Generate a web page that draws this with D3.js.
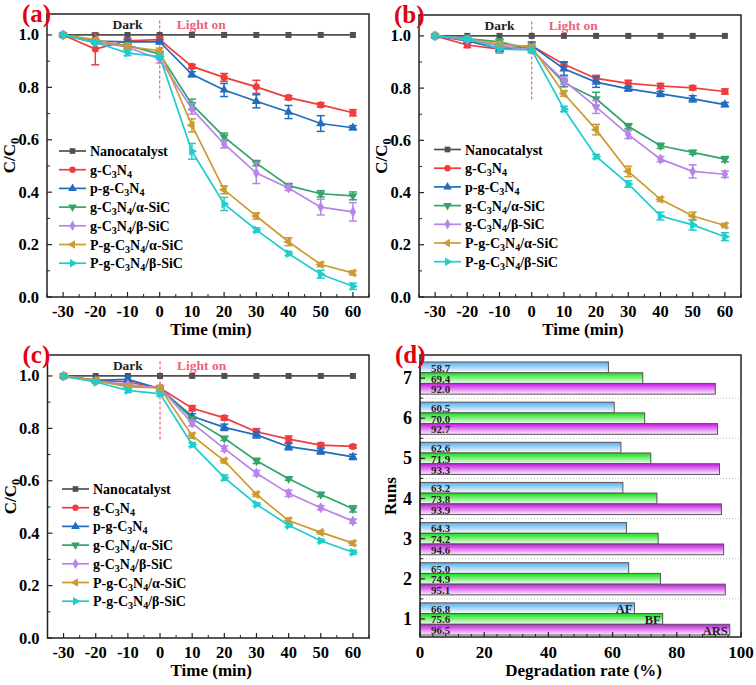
<!DOCTYPE html>
<html>
<head>
<meta charset="UTF-8">
<style>
  body { margin: 0; background: #fff; }
  svg text { font-family: "Liberation Serif", "Times New Roman", serif; font-weight: bold; }
</style>
<script src="https://d3js.org/d3.v7.min.js"></script>
</head>
<body>
<div id="fig"></div>
<script>
// ---- data ----
const times = [-30, -20, -10, 0, 10, 20, 30, 40, 50, 60];
const seriesNames = ["Nanocatalyst", "g-C3N4", "p-g-C3N4", "g-C3N4/α-SiC", "g-C3N4/β-SiC", "P-g-C3N4/α-SiC", "P-g-C3N4/β-SiC"];

// panel (a)
const a_nano = [1, 1, 1, 1, 1, 1, 1, 1, 1, 1];
const a_g    = [1, 0.946, 0.978, 0.982, 0.88, 0.838, 0.802, 0.761, 0.733, 0.703];
const a_pg   = [1, 0.977, 0.974, 0.974, 0.85, 0.79, 0.747, 0.706, 0.662, 0.646];
const a_ga   = [1, 0.97, 0.96, 0.927, 0.735, 0.611, 0.511, 0.425, 0.394, 0.386];
const a_gb   = [1, 0.974, 0.953, 0.908, 0.718, 0.584, 0.473, 0.416, 0.343, 0.325];
const a_pa   = [1, 0.982, 0.956, 0.94, 0.655, 0.409, 0.309, 0.211, 0.124, 0.092];
const a_pb   = [1, 0.972, 0.931, 0.918, 0.556, 0.355, 0.256, 0.166, 0.087, 0.041];
const a_err = [
  [0, 0, 0, 0, 0, 0, 0, 0, 0, 0],
  [0, 0.06, 0.01, 0.01, 0.008, 0.015, 0.025, 0.008, 0.008, 0.012],
  [0, 0.005, 0.008, 0.008, 0.01, 0.025, 0.025, 0.025, 0.03, 0.008],
  [0, 0.005, 0.01, 0.01, 0.02, 0.015, 0.01, 0.008, 0.012, 0.015],
  [0, 0.005, 0.01, 0.015, 0.02, 0.015, 0.04, 0.01, 0.03, 0.035],
  [0, 0.005, 0.01, 0.01, 0.025, 0.015, 0.012, 0.015, 0.008, 0.008],
  [0, 0.005, 0.01, 0.01, 0.03, 0.025, 0.008, 0.008, 0.015, 0.012]
];

// panel (b)
const b_nano = [1, 1, 1, 1, 1, 1, 1, 1, 1, 1];
const b_g    = [1, 0.965, 0.949, 0.962, 0.891, 0.837, 0.818, 0.808, 0.801, 0.787];
const b_pg   = [1, 0.981, 0.951, 0.962, 0.874, 0.823, 0.797, 0.778, 0.759, 0.737];
const b_ga   = [1, 0.99, 0.977, 0.949, 0.82, 0.759, 0.654, 0.579, 0.554, 0.528];
const b_gb   = [1, 0.985, 0.962, 0.946, 0.829, 0.728, 0.622, 0.528, 0.481, 0.47];
const b_pa   = [1, 0.99, 0.968, 0.958, 0.779, 0.641, 0.481, 0.374, 0.31, 0.274];
const b_pb   = [1, 0.99, 0.949, 0.946, 0.72, 0.538, 0.433, 0.31, 0.276, 0.231];
const b_err = [
  [0, 0, 0, 0, 0, 0, 0, 0, 0, 0],
  [0, 0.01, 0.01, 0.01, 0.01, 0.012, 0.012, 0.01, 0.008, 0.01],
  [0, 0.005, 0.01, 0.015, 0.025, 0.02, 0.008, 0.01, 0.012, 0.008],
  [0, 0.005, 0.012, 0.01, 0.015, 0.025, 0.01, 0.01, 0.008, 0.01],
  [0, 0.005, 0.01, 0.01, 0.015, 0.025, 0.015, 0.01, 0.025, 0.012],
  [0, 0.005, 0.01, 0.01, 0.01, 0.02, 0.02, 0.008, 0.015, 0.008],
  [0, 0.005, 0.015, 0.01, 0.01, 0.008, 0.012, 0.015, 0.02, 0.015]
];

// panel (c)
const c_nano = [1, 1, 1, 1, 1, 1, 1, 1, 1, 1];
const c_g    = [1, 0.983, 0.977, 0.954, 0.877, 0.84, 0.787, 0.759, 0.736, 0.731];
const c_pg   = [1, 0.983, 0.987, 0.951, 0.846, 0.804, 0.775, 0.73, 0.712, 0.691];
const c_ga   = [1, 0.98, 0.964, 0.955, 0.836, 0.762, 0.676, 0.608, 0.548, 0.493];
const c_gb   = [1, 0.98, 0.967, 0.955, 0.82, 0.723, 0.629, 0.552, 0.497, 0.446];
const c_pa   = [1, 0.983, 0.958, 0.954, 0.772, 0.676, 0.548, 0.448, 0.403, 0.362];
const c_pb   = [0.998, 0.977, 0.945, 0.932, 0.738, 0.612, 0.51, 0.43, 0.371, 0.327];
const c_err = [
  [0, 0, 0, 0, 0, 0, 0, 0, 0, 0],
  [0, 0.005, 0.005, 0.008, 0.01, 0.008, 0.012, 0.012, 0.008, 0.006],
  [0, 0.005, 0.012, 0.008, 0.01, 0.012, 0.012, 0.012, 0.01, 0.01],
  [0, 0.005, 0.005, 0.006, 0.008, 0.008, 0.01, 0.006, 0.008, 0.012],
  [0, 0.005, 0.005, 0.006, 0.01, 0.01, 0.01, 0.012, 0.008, 0.008],
  [0, 0.005, 0.008, 0.01, 0.01, 0.008, 0.008, 0.01, 0.006, 0.008],
  [0, 0.005, 0.008, 0.008, 0.008, 0.01, 0.006, 0.006, 0.006, 0.008]
];

// panel (d)
const runs = [1, 2, 3, 4, 5, 6, 7];
const dyes = ["AF", "BF", "ARS"];
const rateAF  = [66.8, 65.0, 64.3, 63.2, 62.6, 60.5, 58.7];
const rateBF  = [75.6, 74.9, 74.2, 73.8, 71.9, 70.0, 69.4];
const rateARS = [96.5, 95.1, 94.6, 93.9, 93.3, 92.7, 92.0];

// ---- styles ----
const colors = ["#505050", "#f03c3c", "#1f6cc0", "#34a46a", "#b884ea", "#cc9a32", "#20cccc"];
const symbols = [d3.symbolSquare, d3.symbolCircle, d3.symbolTriangle, d3.symbolTriangle, d3.symbolDiamond, d3.symbolTriangle, d3.symbolTriangle];
const rotations = [0, 0, 0, 180, 0, -90, 90];

const svg = d3.select("#fig").append("svg")
  .attr("width", 756).attr("height", 685);

function subLabel(sel, name) {
  // split the name so C3N4 gets subscripts
  const parts = name.split(/(C3N4)/);
  parts.forEach(p => {
    if (p === "C3N4") {
      sel.append("tspan").text("C");
      sel.append("tspan").attr("baseline-shift", "-30%").attr("font-size", "72%").text("3");
      sel.append("tspan").text("N");
      sel.append("tspan").attr("baseline-shift", "-30%").attr("font-size", "72%").text("4");
    } else if (p !== "") {
      sel.append("tspan").text(p);
    }
  });
}

function linePanel(box, label, data, errs, legendPos) {
  const x = d3.scaleLinear().domain([-35, 65]).range([box.l, box.r]);
  const y = d3.scaleLinear().domain([0, 1.08]).range([box.b, box.t]);
  const g = svg.append("g");

  // ticks (inward)
  const xt = d3.range(-30, 61, 10), xm = d3.range(-35, 66, 5).filter(v => v % 10 !== 0);
  const yt = d3.range(0, 1.01, 0.2), ym = d3.range(0.1, 1.08, 0.2);
  xt.forEach(v => g.append("line").attr("x1", x(v)).attr("x2", x(v)).attr("y1", box.b).attr("y2", box.b - 5).attr("stroke", "#222").attr("stroke-width", 1.2));
  xm.forEach(v => g.append("line").attr("x1", x(v)).attr("x2", x(v)).attr("y1", box.b).attr("y2", box.b - 3).attr("stroke", "#222"));
  yt.forEach(v => g.append("line").attr("x1", box.l).attr("x2", box.l + 5).attr("y1", y(v)).attr("y2", y(v)).attr("stroke", "#222").attr("stroke-width", 1.2));
  ym.forEach(v => g.append("line").attr("x1", box.l).attr("x2", box.l + 3).attr("y1", y(v)).attr("y2", y(v)).attr("stroke", "#222"));

  g.selectAll(".xl").data(xt).enter().append("text")
    .attr("x", d => x(d)).attr("y", box.b + 20).attr("text-anchor", "middle")
    .attr("font-size", 16.5).text(d => d);
  g.selectAll(".yl").data(yt).enter().append("text")
    .attr("x", box.l - 8).attr("y", d => y(d) + 5.5).attr("text-anchor", "end")
    .attr("font-size", 16.5).text(d => d.toFixed(1));

  g.append("text").attr("x", (box.l + box.r) / 2 + 3).attr("y", box.b + 38)
    .attr("text-anchor", "middle").attr("font-size", 17).text("Time (min)");
  const yl = g.append("text").attr("transform", `translate(${box.l - 32},${(box.t + box.b) / 2}) rotate(-90)`)
    .attr("text-anchor", "middle").attr("font-size", 17);
  yl.append("tspan").text("C/C");
  yl.append("tspan").attr("baseline-shift", "-30%").attr("font-size", "72%").text("0");

  // dark / light annotations
  g.append("line").attr("x1", x(0)).attr("x2", x(0)).attr("y1", y(1.055)).attr("y2", y(0.755))
    .attr("stroke", "#f0607e").attr("stroke-width", 1.2).attr("stroke-dasharray", "3,2");
  g.append("text").attr("x", x(-10)).attr("y", box.t + 15).attr("text-anchor", "middle")
    .attr("font-size", 13.5).attr("fill", "#222").text("Dark");
  g.append("text").attr("x", x(0) + 17).attr("y", box.t + 15)
    .attr("font-size", 13.5).attr("fill", "#f0607e").text("Light on");

  const line = d3.line().x((d, i) => x(times[i])).y(d => y(d));
  data.forEach((vals, s) => {
    const col = colors[s];
    g.append("path").attr("d", line(vals)).attr("fill", "none")
      .attr("stroke", col).attr("stroke-width", 1.7);
    vals.forEach((v, i) => {
      const e = errs[s][i];
      if (e > 0) {
        const cx = x(times[i]);
        g.append("line").attr("x1", cx).attr("x2", cx).attr("y1", y(v - e)).attr("y2", y(v + e)).attr("stroke", col).attr("stroke-width", 1.5);
        [v - e, v + e].forEach(w => g.append("line").attr("x1", cx - 4).attr("x2", cx + 4).attr("y1", y(w)).attr("y2", y(w)).attr("stroke", col).attr("stroke-width", 1.5));
      }
      g.append("path").attr("d", d3.symbol(symbols[s], s === 1 ? 40 : 36)())
        .attr("transform", `translate(${x(times[i])},${y(v)}) rotate(${rotations[s]})`)
        .attr("fill", col);
    });
  });

  // legend
  seriesNames.forEach((n, s) => {
    const ly = legendPos.y + s * 18.7;
    g.append("line").attr("x1", legendPos.x).attr("x2", legendPos.x + 27).attr("y1", ly).attr("y2", ly)
      .attr("stroke", colors[s]).attr("stroke-width", 1.7);
    g.append("path").attr("d", d3.symbol(symbols[s], 32)())
      .attr("transform", `translate(${legendPos.x + 13.5},${ly}) rotate(${rotations[s]})`)
      .attr("fill", colors[s]);
    const t = g.append("text").attr("x", legendPos.x + 31).attr("y", ly + 5).attr("font-size", 14);
    subLabel(t, n);
  });

  g.append("rect").attr("x", box.l).attr("y", box.t).attr("width", box.r - box.l).attr("height", box.b - box.t)
    .attr("fill", "none").attr("stroke", "#222").attr("stroke-width", 1.5);

  svg.append("text").attr("x", box.l - 25).attr("y", box.t + 8).attr("font-size", 25)
    .attr("fill", "#e3000f").text(label);
}

linePanel({ l: 47, r: 369, t: 14, b: 297 }, "(a)",
  [a_nano, a_g, a_pg, a_ga, a_gb, a_pa, a_pb], a_err, { x: 59, y: 151 });
linePanel({ l: 419, r: 741, t: 15, b: 297 }, "(b)",
  [b_nano, b_g, b_pg, b_ga, b_gb, b_pa, b_pb], b_err, { x: 434, y: 149.5 });
linePanel({ l: 47.5, r: 369, t: 355, b: 638 }, "(c)",
  [c_nano, c_g, c_pg, c_ga, c_gb, c_pa, c_pb], c_err, { x: 62, y: 489 });

// ---- panel (d): horizontal bars ----
(function () {
  const box = { l: 420, r: 741, t: 355, b: 637 };
  const x = d3.scaleLinear().domain([0, 100]).range([box.l, box.r]);
  const y = d3.scaleLinear().domain([0.55, 7.575]).range([box.b, box.t]);
  const g = svg.append("g");
  const defs = svg.append("defs");
  const grads = [["gAF", "#55aef0", "#ffffff"], ["gBF", "#14e014", "#f2fff2"], ["gARS", "#c814e6", "#fbf0fd"]];
  grads.forEach(([id, c1, c2]) => {
    const lg = defs.append("linearGradient").attr("id", id).attr("x1", 0).attr("x2", 0).attr("y1", 0).attr("y2", 1);
    lg.append("stop").attr("offset", "0%").attr("stop-color", c1);
    lg.append("stop").attr("offset", "100%").attr("stop-color", c2);
  });

  // dotted separators between runs
  d3.range(1.5, 7, 1).forEach(v => g.append("line").attr("x1", box.l).attr("x2", box.r)
    .attr("y1", y(v)).attr("y2", y(v)).attr("stroke", "#bbb").attr("stroke-dasharray", "1,2"));

  const barH = (y(0) - y(0.267));
  const sets = [rateAF, rateBF, rateARS];
  sets.forEach((vals, k) => {
    vals.forEach((v, i) => {
      const cy = y(runs[i]) + (k - 1) * barH;
      g.append("rect").attr("x", x(0)).attr("y", cy - barH / 2).attr("width", x(v) - x(0)).attr("height", barH)
        .attr("fill", `url(#${grads[k][0]})`).attr("stroke", "#555").attr("stroke-width", 1);
      g.append("text").attr("x", x(0) + 11).attr("y", cy + 4.5).attr("font-size", 11)
        .attr("fill", "#222").text(v.toFixed(1));
      if (i === 0) {
        g.append("text").attr("x", x(v) - 2).attr("y", cy + 5).attr("text-anchor", "end")
          .attr("font-size", 12.5).attr("fill", "#222").text(dyes[k]);
      }
    });
  });

  d3.range(0, 101, 20).forEach(v => g.append("line").attr("x1", x(v)).attr("x2", x(v)).attr("y1", box.b).attr("y2", box.b - 5).attr("stroke", "#222").attr("stroke-width", 1.2));
  d3.range(4, 100, 4).filter(v => v % 20 !== 0).forEach(v => g.append("line").attr("x1", x(v)).attr("x2", x(v)).attr("y1", box.b).attr("y2", box.b - 3).attr("stroke", "#222"));
  runs.forEach(r => g.append("line").attr("x1", box.l).attr("x2", box.l + 5).attr("y1", y(r)).attr("y2", y(r)).attr("stroke", "#222").attr("stroke-width", 1.2));
  d3.range(1.5, 7.6, 1).forEach(v => g.append("line").attr("x1", box.l).attr("x2", box.l + 3).attr("y1", y(v)).attr("y2", y(v)).attr("stroke", "#222"));

  g.selectAll(".xl").data(d3.range(0, 101, 20)).enter().append("text")
    .attr("x", d => x(d)).attr("y", box.b + 21).attr("text-anchor", "middle")
    .attr("font-size", 17).attr("font-weight", "normal").text(d => d);
  g.selectAll(".yl").data(runs).enter().append("text")
    .attr("x", box.l - 8).attr("y", d => y(d) + 6).attr("text-anchor", "end")
    .attr("font-size", 18).attr("font-weight", "normal").text(d => d);

  g.append("text").attr("x", (box.l + box.r) / 2 + 3).attr("y", box.b + 39)
    .attr("text-anchor", "middle").attr("font-size", 17).text("Degradation rate (%)");
  g.append("text").attr("transform", `translate(${box.l - 24},${(box.t + box.b) / 2}) rotate(-90)`)
    .attr("text-anchor", "middle").attr("font-size", 17).text("Runs");

  g.append("rect").attr("x", box.l).attr("y", box.t).attr("width", box.r - box.l).attr("height", box.b - box.t)
    .attr("fill", "none").attr("stroke", "#222").attr("stroke-width", 1.5);

  svg.append("text").attr("x", box.l - 25).attr("y", box.t + 8).attr("font-size", 25)
    .attr("fill", "#e3000f").text("(d)");
})();
</script>
</body>
</html>
